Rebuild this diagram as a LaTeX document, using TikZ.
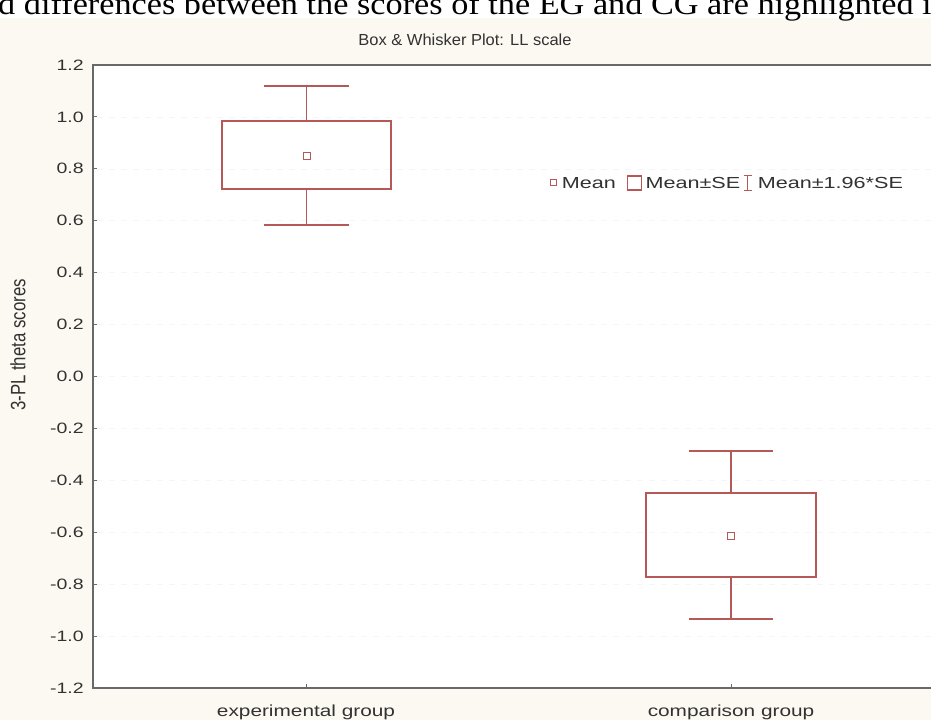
\documentclass[tikz,border=0pt]{standalone}
\usepackage{fontspec}
\setmainfont{Liberation Serif}
\newfontfamily\chartfont{Liberation Sans}
\usetikzlibrary{positioning,fit}
\definecolor{paper}{RGB}{252,249,242}
\definecolor{boxred}{RGB}{180,88,88}
\definecolor{axisgray}{RGB}{105,105,105}
\definecolor{labelgray}{RGB}{50,50,50}
\tikzset{every picture/.style={x=1pt,y=1pt},
  caption/.style={font=\fontsize{31}{31}\selectfont,anchor=base west,inner sep=0pt,xscale=1.105},
  charttitle/.style={font=\chartfont\fontsize{16}{16}\selectfont,text=labelgray,xscale=1.03},
  ticklabel/.style={font=\chartfont\fontsize{15}{15}\selectfont,text=labelgray,xscale=1.3,anchor=east,inner sep=0pt},
  catlabel/.style={font=\chartfont\fontsize{16}{16}\selectfont,text=labelgray,xscale=1.3,inner sep=0pt},
  legendtext/.style={font=\chartfont\fontsize{16}{16}\selectfont,text=labelgray,xscale=1.35,inner sep=0pt},
  axisline/.style={draw=axisgray,line width=1.8pt},
  tickmark/.style={draw=axisgray,line width=0.8pt},
  gridline/.style={draw=black!4,line width=0.6pt,dash pattern=on 6pt off 6pt},
  sebox/.style={draw=boxred,line width=1.6pt,inner sep=0pt},
  whisker/.style={draw=boxred,line width=1.6pt},
  meanmark/.style={draw=boxred,line width=1pt,inner sep=0pt,minimum size=7pt,rectangle}}

\begin{document}
\begin{tikzpicture}
  \useasboundingbox (0,-343.5) rectangle (931,376.5);
  \fill[white] (0,-343.5) rectangle (931,376.5);
  \fill[paper] (0,-343.5) rectangle (931,358.5);
  \begin{scope}
    \clip (0,-343.5) rectangle (931,376.5);
    \node[caption] (caption) at (-2,361.5) {d differences between the scores of the EG and CG are highlighted i};
  \end{scope}
  \node[charttitle] (title) at (465,336.5) {Box \& Whisker Plot: LL scale};
  \node[catlabel,rotate=90,xscale=1.05] (ylabel) at (18,31.5) {3-PL theta scores};
  \begin{scope}[y=259.6pt]
    \fill[white] (93,-1.2) rectangle (931,1.2);
    \foreach \v in {-1.0,-0.8,...,1.1} \draw[gridline] (97,\v) -- (931,\v);
    \draw[axisline] (935,1.2) -- (93,1.2) -- (93,-1.2) -- (935,-1.2);
    \foreach \t [count=\i] in {1.2,1.0,0.8,0.6,0.4,0.2,0.0,-0.2,-0.4,-0.6,-0.8,-1.0,-1.2} {
      \draw[tickmark] (93,\t) -- ++(4,0);
      \node[ticklabel] (ytick\i) at (84,\t) {\t};
    }
    \draw[tickmark] (306,-1.2) -- ++(0,0.016);
    \draw[tickmark] (731,-1.2) -- ++(0,0.016);
    \node[catlabel] (xexp) at (306,-1.292) {experimental group};
    \node[catlabel] (xcomp) at (731,-1.292) {comparison group};

    \coordinate (expLo) at (222,0.722);
    \coordinate (expHi) at (391,0.984);
    \coordinate (expCIhi) at (306.5,1.119);
    \coordinate (expCIlo) at (306.5,0.584);
    \node[sebox,fit=(expLo)(expHi)] (expBox) {};
    \node[meanmark] (expMean) at (306.5,0.851) {};
    \draw[whisker] (expBox.north) -- (expCIhi);
    \draw[whisker] (expBox.south) -- (expCIlo);
    \draw[whisker] ([xshift=-42.5pt]expCIhi) -- ([xshift=42.5pt]expCIhi);
    \draw[whisker] ([xshift=-42.5pt]expCIlo) -- ([xshift=42.5pt]expCIlo);

    \coordinate (compLo) at (646,-0.772);
    \coordinate (compHi) at (816,-0.449);
    \coordinate (compCIhi) at (731,-0.287);
    \coordinate (compCIlo) at (731,-0.934);
    \node[sebox,fit=(compLo)(compHi)] (compBox) {};
    \node[meanmark] (compMean) at (731,-0.614) {};
    \draw[whisker] (compBox.north) -- (compCIhi);
    \draw[whisker] (compBox.south) -- (compCIlo);
    \draw[whisker] ([xshift=-42pt]compCIhi) -- ([xshift=42pt]compCIhi);
    \draw[whisker] ([xshift=-42pt]compCIlo) -- ([xshift=42pt]compCIlo);
  \end{scope}

  \node[meanmark,minimum size=6pt] (legMean) at (553,193.5) {};
  \node[legendtext,right=5pt of legMean] (legMeanTxt) {Mean};
  \node[sebox,line width=1.2pt,minimum width=14pt,minimum height=14pt,right=11pt of legMeanTxt] (legSE) {};
  \node[legendtext,right=3pt of legSE] (legSETxt) {Mean±SE};
  \coordinate[right=7pt of legSETxt] (legCI);
  \draw[whisker,line width=1.2pt] ([yshift=7.5pt]legCI) -- ([yshift=-7.5pt]legCI);
  \draw[whisker,line width=1.2pt] ([xshift=-4pt,yshift=7.5pt]legCI) -- ([xshift=4pt,yshift=7.5pt]legCI);
  \draw[whisker,line width=1.2pt] ([xshift=-4pt,yshift=-7.5pt]legCI) -- ([xshift=4pt,yshift=-7.5pt]legCI);
  \node[legendtext,right=10pt of legCI] (legCITxt) {Mean±1.96*SE};
\end{tikzpicture}
\end{document}
